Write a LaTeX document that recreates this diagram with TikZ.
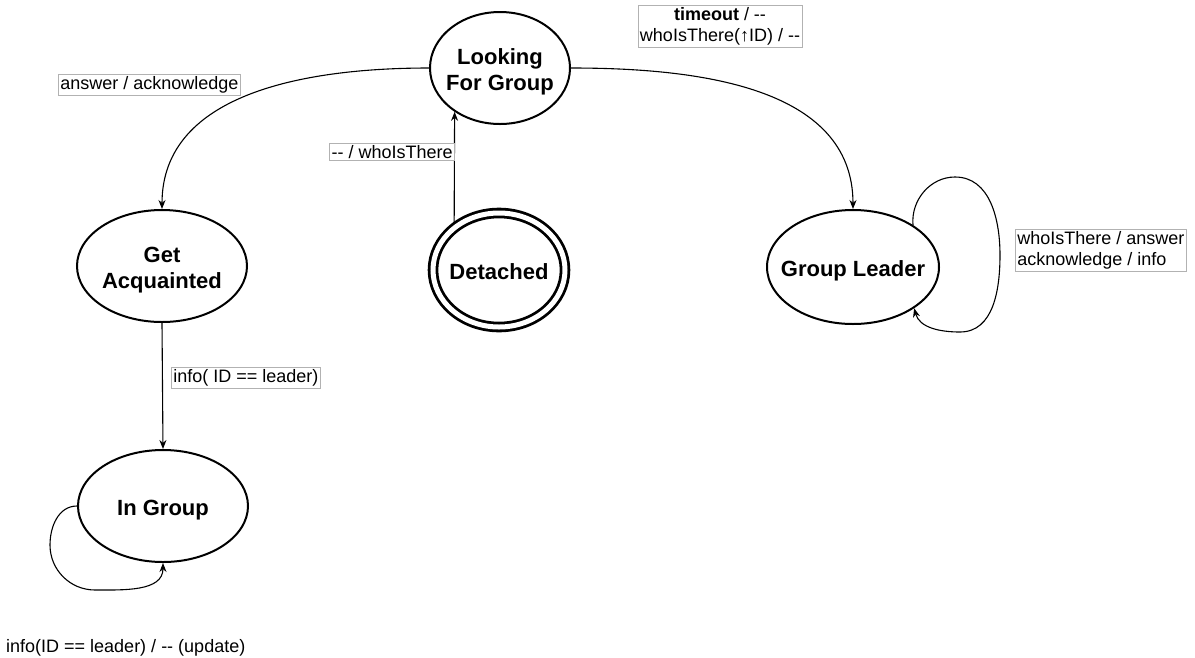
\documentclass[tikz,border=0pt]{standalone}
\usepackage{fontspec}
\setmainfont{Liberation Sans}[Ligatures=TeXOff]
\usetikzlibrary{shapes.geometric,arrows.meta}
\begin{document}
\begin{tikzpicture}[x=1pt,y=-1pt,
  stt/.style={ellipse, draw, line width=2pt, minimum width=170pt, minimum height=112pt, inner sep=0pt},
  sname/.style={font=\fontsize{22}{26}\selectfont\bfseries, align=center, yshift=-4pt},
  conn/.style={line width=1.1pt, -{Stealth[length=9pt,width=7pt]}},
  lbl/.style={draw=black!30, line width=0.6pt, fill=white, inner sep=2pt, font=\fontsize{18}{21}\selectfont}
]
\useasboundingbox (0,0) rectangle (1195,657);

% states
\node[stt, minimum width=140pt, minimum height=112pt] (lfg) at (500,68) {};
\node[sname] (lfgt) at (lfg) {Looking\\For Group};
\node[stt] (ga) at (162,266) {};
\node[sname] (gat) at (ga) {Get\\Acquainted};
\node[stt] (ig) at (163,506) {};
\node[sname] (igt) at (ig) {In Group};
\node[stt, minimum width=172pt, minimum height=114pt] (gl) at (853,267) {};
\node[sname] (glt) at (gl) {Group Leader};
\node[ellipse, draw, double, double distance=5pt, line width=2.8pt,
      minimum width=132pt, minimum height=114pt, inner sep=0pt, outer sep=5pt] (det) at (499,270) {};
\node[sname, yshift=2pt] (dett) at (det) {Detached};

% transitions
\draw[conn] (lfg.west) to[out=180,in=90] (ga.north);
\draw[conn] (lfg.east) to[out=0,in=90] (gl.north);
\draw[conn] (det.133) -- (lfg.224);
\draw[conn] (ga.south) -- (ig.north);
\coordinate (gla) at (955,177);
\coordinate (glb) at (1000,255);
\coordinate (glc) at (960,332);
\draw[conn] (gl.35) to[out=95,in=180] (gla) to[out=0,in=90] (glb)
  to[out=-90,in=0] (glc) to[out=180,in=-75] (gl.-34);
\coordinate (iga) at (50,545);
\coordinate (igb) at (95,590);
\draw[conn] (ig.west) to[out=180,in=90] (iga) to[out=-90,in=180] (igb)
  to[out=0,in=-90] (ig.south);

% transition labels
\node[lbl, anchor=west] (l1) at (58,85) {answer / acknowledge};
\node[lbl, align=center] (l2) at (720,26) {\textbf{timeout} / --\\whoIsThere(↑ID) / --};
\node[lbl, anchor=east] (l3) at (455,152) {-- / whoIsThere};
\node[lbl, anchor=west] (l4) at (171,378) {info( ID == leader)};
\node[lbl, anchor=west, align=left] (l5) at (1015,250) {whoIsThere / answer\\acknowledge / info};
\node[anchor=west, inner sep=2pt, font=\fontsize{18}{21}\selectfont] (l6) at (4,648) {info(ID == leader) / -- (update)};
\end{tikzpicture}
\end{document}
